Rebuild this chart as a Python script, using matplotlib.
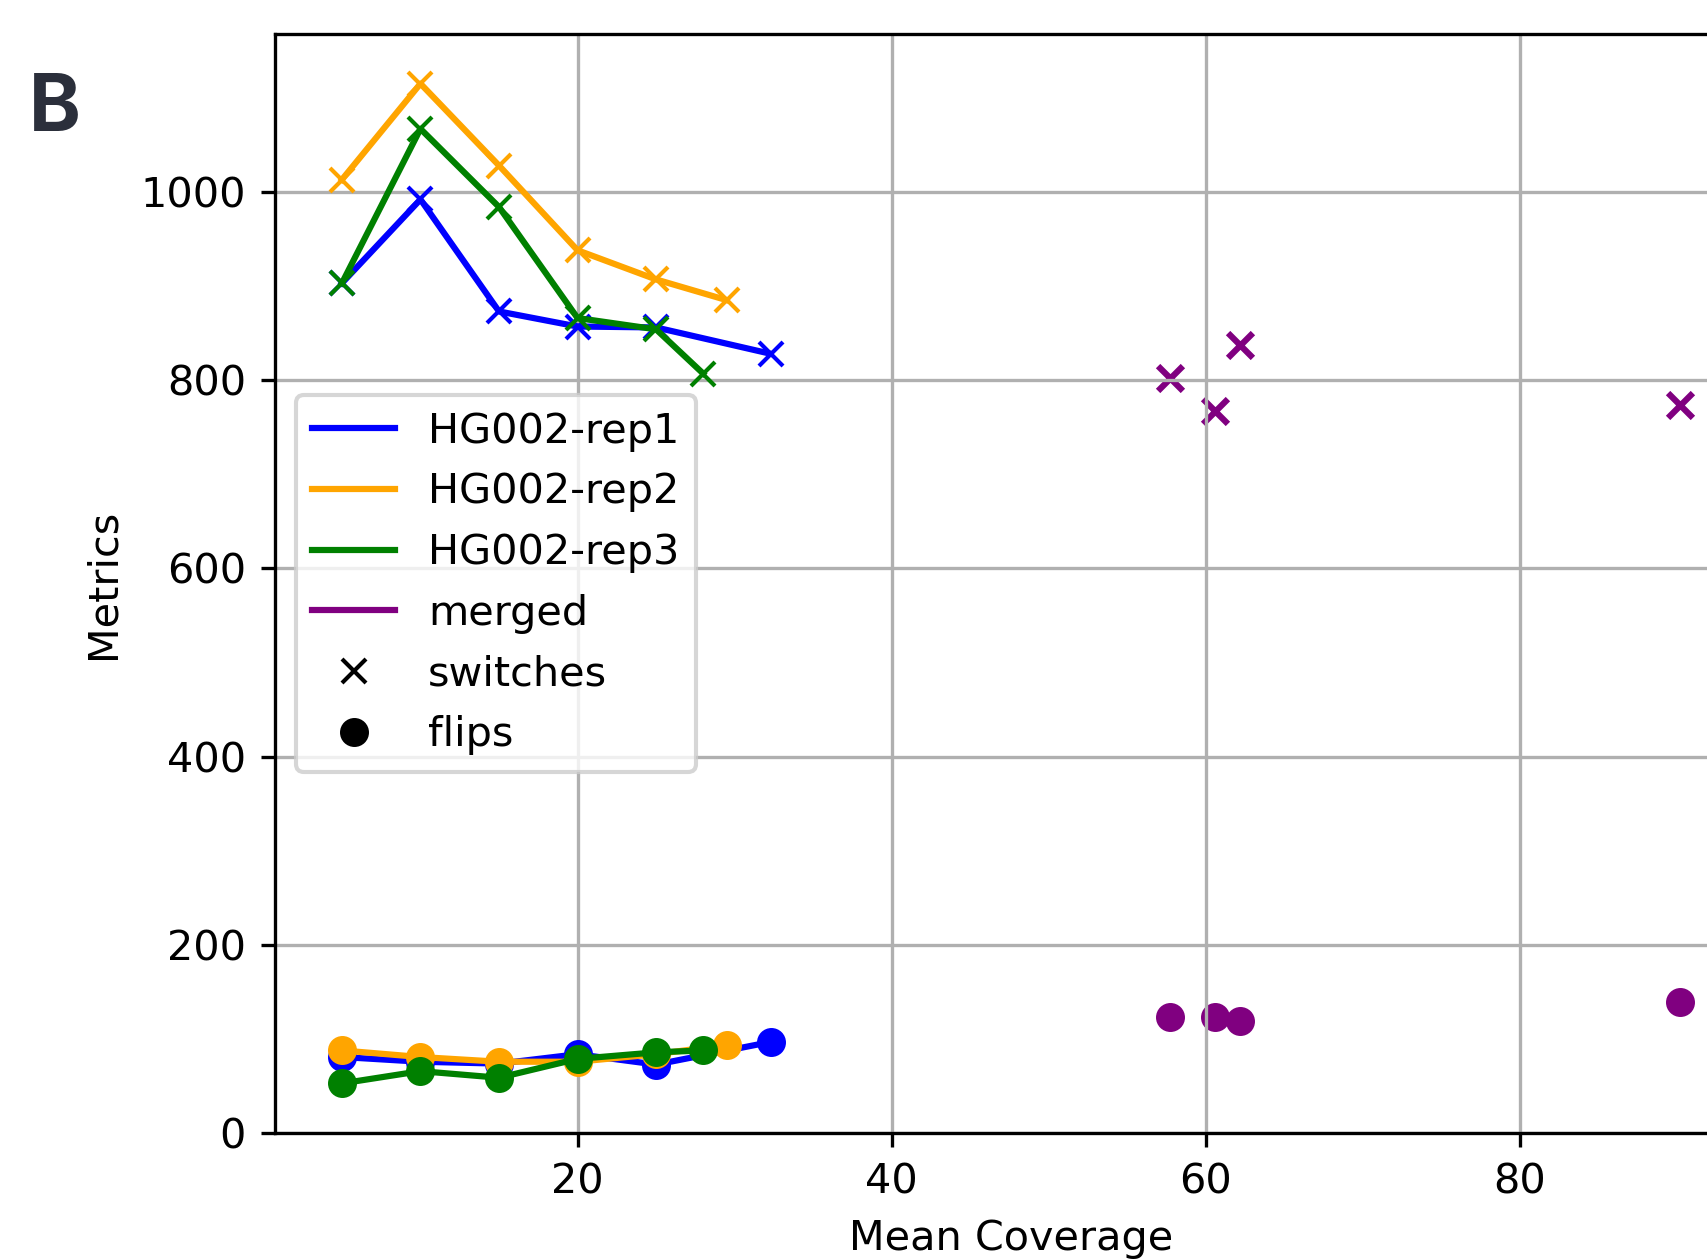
from matplotlib import pyplot as plt
from matplotlib.lines import Line2D

# coverage (x) per sample
cov_rep1 = [5, 10, 15, 20, 25, 32.3]
cov_rep2 = [5, 10, 15, 20, 25, 29.5]
cov_rep3 = [5, 10, 15, 20, 25, 28.0]
cov_merged = [57.7, 60.6, 62.2, 90.2]

# switch errors
sw_rep1 = [903, 992, 873, 857, 856, 828]
sw_rep2 = [1013, 1115, 1028, 938, 907, 885]
sw_rep3 = [903, 1067, 984, 866, 854, 807]
sw_merged = [802, 767, 837, 774]

# flip errors
fl_rep1 = [81, 76, 74, 84, 73, 97]
fl_rep2 = [88, 81, 76, 76, 84, 94]
fl_rep3 = [53, 66, 59, 79, 86, 88]
fl_merged = [123, 123, 119, 139]

labels = ['HG002-rep1', 'HG002-rep2', 'HG002-rep3', 'merged']
colors = ['blue', 'orange', 'green', 'purple']

DPI = 298
fig = plt.figure(figsize=(1707 / DPI, 1260 / DPI), dpi=DPI)
ax = fig.add_axes([0.1611, 0.1005, 0.8624, 0.8728])

reps = [(cov_rep1, sw_rep1, fl_rep1), (cov_rep2, sw_rep2, fl_rep2), (cov_rep3, sw_rep3, fl_rep3)]
for (cov, sw, fl), c in zip(reps, colors):
    ax.plot(cov, sw, marker='x', color=c)
    ax.plot(cov, fl, marker='o', color=c)

ax.scatter(cov_merged, sw_merged, marker='x', color=colors[3])
ax.scatter(cov_merged, fl_merged, marker='o', color=colors[3])

ax.grid(True)
ax.set_xlabel('Mean Coverage')
ax.set_ylabel('Metrics')

handles = [Line2D([0], [0], color=c) for c in colors]
handles.append(Line2D([0], [0], marker='x', color='black', linestyle='None'))
handles.append(Line2D([0], [0], marker='o', color='black', linestyle='None'))
ax.legend(handles, labels + ['switches', 'flips'], loc='center left')

fig.text(0.017, 0.896, 'B', fontsize=19, fontweight='bold', color='#2b2f3b',
         family=['Inter', 'DejaVu Sans'])

fig.savefig('out.png', dpi=DPI)
